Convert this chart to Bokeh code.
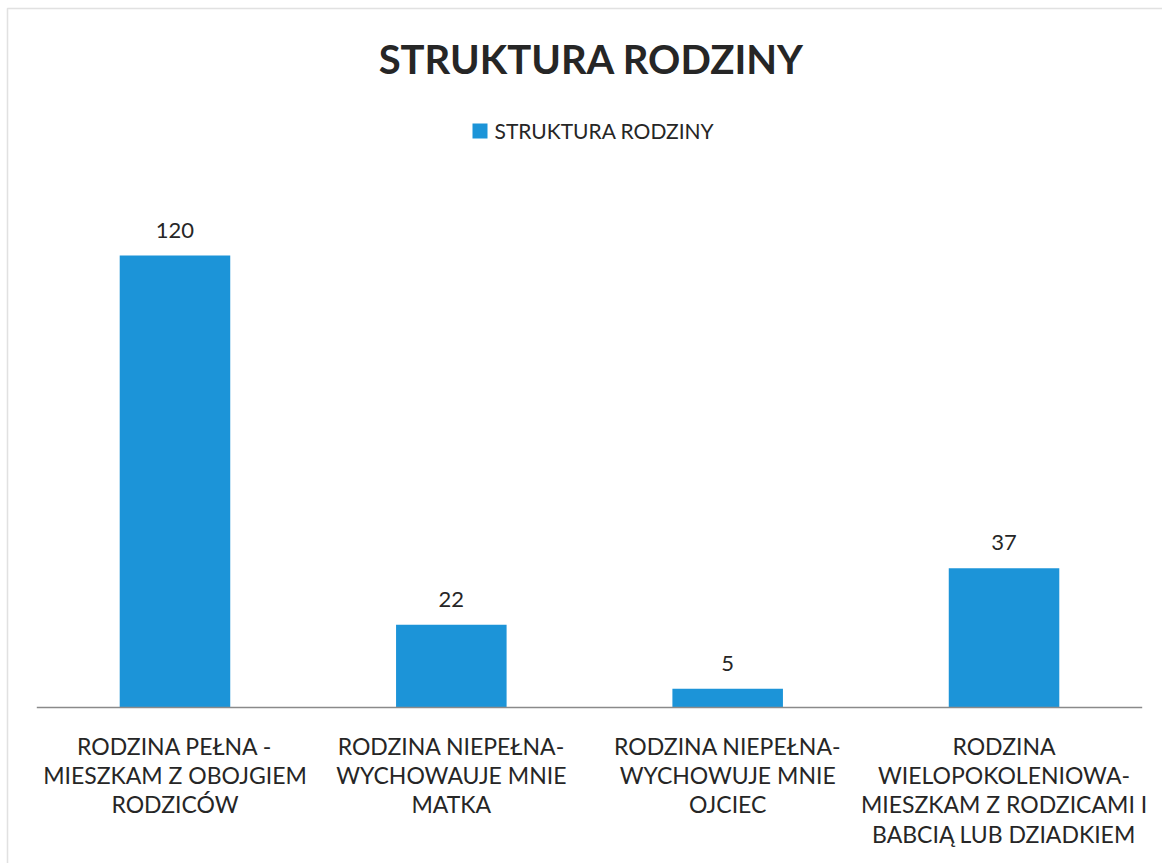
from bokeh.plotting import figure
from bokeh.models import ColumnDataSource, LabelSet, Label, BoxAnnotation
from bokeh.core.properties import value
from bokeh.embed import file_html
from bokeh.resources import INLINE

categories = [
    "RODZINA PEŁNA -\nMIESZKAM Z OBOJGIEM\nRODZICÓW",
    "RODZINA NIEPEŁNA-\nWYCHOWAUJE MNIE\nMATKA",
    "RODZINA NIEPEŁNA-\nWYCHOWUJE MNIE\nOJCIEC",
    "RODZINA\nWIELOPOKOLENIOWA-\nMIESZKAM Z RODZICAMI I\nBABCIĄ LUB DZIADKIEM",
]
values = [120, 22, 5, 37]
value_labels = [str(v) for v in values]
title_text = "STRUKTURA RODZINY"
series_name = "STRUKTURA RODZINY"

BLUE = "#1c94d8"
TEXT = "#262626"
FONT = "Lato"

W, H = 1162, 863
# layout (pixels): plot area left/right edge, baseline, pixels per value unit
LEFT_PX, RIGHT_PX, BASE_PX = 36.3, 1141.7, 707
PX_PER_UNIT = 452 / 120
slot = (RIGHT_PX - LEFT_PX) / len(categories)
x_start = -0.5 - LEFT_PX / slot
x_end = len(categories) - 0.5 + (W - RIGHT_PX) / slot
y_start = -(H - BASE_PX) / PX_PER_UNIT
y_end = BASE_PX / PX_PER_UNIT

p = figure(
    width=W, height=H,
    x_range=(x_start, x_end), y_range=(y_start, y_end),
    output_backend="svg", toolbar_location=None,
    min_border=0,
    background_fill_color="white", border_fill_color="white",
)
p.outline_line_color = None
p.xgrid.grid_line_color = None
p.ygrid.grid_line_color = None
p.xaxis.visible = False
p.yaxis.visible = False

xs = list(range(len(categories)))
zeros = [0] * len(categories)
src = ColumnDataSource(dict(x=xs, cat=categories, val=values, lab=value_labels, zero=zeros))
p.vbar(x="x", top="val", width=0.4, source=src, color=BLUE, line_color=None)

# category axis line
p.segment(x0=[-0.5], y0=[0], x1=[len(categories) - 0.5], y1=[0],
          line_color="#8a8a8a", line_width=1.5)

# category labels
p.text(x="x", y="zero", text="cat", source=src, y_offset=24,
       text_align="center", text_baseline="top",
       text_font=value(FONT), text_font_size="23px", text_color=TEXT,
       text_line_height=1.05)

labels = LabelSet(x="x", y="val", text="lab", source=src, y_offset=18,
                  text_align="center", text_baseline="bottom",
                  text_font=value(FONT), text_font_size="22px", text_color=TEXT)
p.add_layout(labels)

# screen units: from the frame's bottom-left corner (= canvas here)
p.add_layout(Label(x=591, y=H - 58, x_units="screen", y_units="screen",
                   text=title_text, text_align="center", text_baseline="middle",
                   text_font=FONT, text_font_style="bold", text_font_size="40px",
                   text_color=TEXT))
p.add_layout(Label(x=494, y=H - 130, x_units="screen", y_units="screen",
                   text=series_name, text_align="left", text_baseline="middle",
                   text_font=FONT, text_font_size="21px", text_color=TEXT))
p.add_layout(BoxAnnotation(left=472, right=487, bottom=H - 138, top=H - 123,
                           left_units="screen", right_units="screen",
                           bottom_units="screen", top_units="screen",
                           fill_color=BLUE, fill_alpha=1, line_color=None))
# outer chart border (left & top visible)
p.add_layout(BoxAnnotation(left=7, right=W + 50, bottom=-50, top=H - 8,
                           left_units="screen", right_units="screen",
                           bottom_units="screen", top_units="screen",
                           fill_alpha=0, line_color="#9a9a9a", line_width=1.5))

out = file_html(p, INLINE)
open("out.html", "w").write(out)
